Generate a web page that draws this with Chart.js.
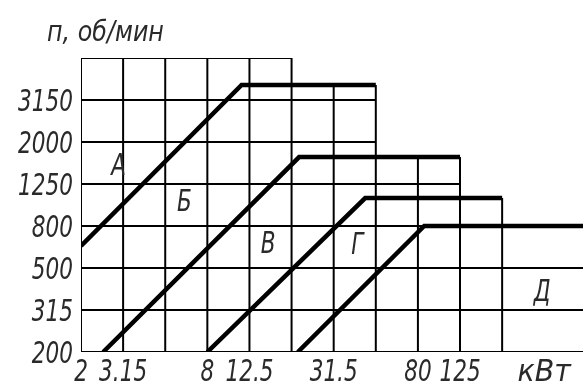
<!DOCTYPE html>
<html>
<head>
<meta charset="utf-8">
<script src="https://cdn.jsdelivr.net/npm/chart.js@4.4.1/dist/chart.umd.min.js"></script>
<style>
  html, body { margin: 0; padding: 0; background: #fff; }
</style>
</head>
<body>
<canvas id="chart" width="583" height="383"></canvas>
<script>
// grid steps of both axes (kW and rev/min), drawn at equal spacing
const powerSteps = [2, 3.15, 5, 8, 12.5, 20, 31.5, 50, 80, 125, 200];
const speedSteps = [200, 315, 500, 800, 1250, 2000, 3150, 5000];
const powerLabels = ['2', '3.15', '', '8', '12.5', '', '31.5', '', '80', '125', '', 'кВт'];
const speedLabels = ['200', '315', '500', '800', '1250', '2000', '3150', ''];
const yTitle = 'п, об/мин';

// range boundaries, [kW, rpm]
const lineA = [[2, 640], [11.5, 3715], [50, 3715]];
const lineB = [[2.54, 200], [21.7, 1690], [125, 1690]];
const lineV = [[8, 200], [44.5, 1077], [200, 1077]];
const lineG = [[21.4, 200], [85.5, 800], [500, 800]];

// stepped grid: top of each vertical line (rpm), right end of each horizontal line (kW)
const gridTops = [5000, 5000, 5000, 5000, 5000, 5000, 3715, 3715, 1690, 1690, 1077];
const gridEnds = [500, 500, 500, 500, 125, 50, 50, 20];

// zone letters, [kW, rpm]
const zoneNames = ['А', 'Б', 'В', 'Г', 'Д'];
const zoneAt = [[3.0, 1564], [6.2, 1055], [15.4, 670], [40.8, 661], [313, 392]];

const font = 'italic 200 30px "DejaVu Sans", sans-serif';
const titleFont = 'italic 200 28px "DejaVu Sans", sans-serif';
const ink = '#2a2a2a';

// position of a value between the grid steps (log interpolation)
function stepIndex(v, steps) {
  let i = 0;
  while (i < steps.length - 2 && v > steps[i + 1]) i++;
  return i + Math.log(v / steps[i]) / Math.log(steps[i + 1] / steps[i]);
}
const pt = ([p, n]) => ({ x: stepIndex(p, powerSteps), y: stepIndex(n, speedSteps) });

const datasets = [];
powerSteps.forEach((p, i) => {
  datasets.push({
    data: [pt([p, speedSteps[0]]), pt([p, gridTops[i]])],
    borderColor: '#000', borderWidth: 2
  });
});
speedSteps.forEach((n, j) => {
  datasets.push({
    data: [pt([powerSteps[0], n]), pt([gridEnds[j], n])],
    borderColor: '#000', borderWidth: 2
  });
});
[lineA, lineB, lineV, lineG].forEach(l => {
  datasets.push({
    data: l.map(pt),
    borderColor: '#000', borderWidth: 4.5
  });
});

// narrow drafting-style text: squeeze the glyphs horizontally
function drawText(ctx, text, x, y, sx, align) {
  ctx.save();
  ctx.translate(x, y);
  ctx.scale(sx, 1);
  ctx.textAlign = align;
  ctx.fillText(text, 0, 0);
  ctx.restore();
}

const textPlugin = {
  id: 'drawingText',
  afterDraw(chart) {
    const { ctx, scales: { x, y } } = chart;
    ctx.save();
    ctx.fillStyle = ink;
    ctx.textBaseline = 'alphabetic';
    ctx.font = font;
    speedLabels.forEach((t, i) => {
      if (t) drawText(ctx, t, x.left - 8, y.getPixelForValue(i) + 11, 0.72, 'right');
    });
    powerLabels.forEach((t, i) => {
      if (t) drawText(ctx, t, x.getPixelForValue(i), 381, /\d/.test(t) ? 0.72 : 0.95, 'center');
    });
    zoneNames.forEach((t, i) => {
      const p = pt(zoneAt[i]);
      drawText(ctx, t, x.getPixelForValue(p.x), y.getPixelForValue(p.y) + 11, 0.72, 'center');
    });
    ctx.font = titleFont;
    drawText(ctx, yTitle, 47, 41, 0.85, 'left');
    ctx.restore();
  }
};

new Chart(document.getElementById('chart'), {
  type: 'line',
  data: { datasets },
  plugins: [textPlugin],
  options: {
    responsive: false,
    animation: false,
    devicePixelRatio: 1,
    parsing: false,
    layout: { padding: { top: 58, left: 0, right: 0, bottom: 0 } },
    elements: { point: { radius: 0 }, line: { tension: 0, fill: false } },
    plugins: { legend: { display: false }, tooltip: { enabled: false }, title: { display: false } },
    scales: {
      x: {
        type: 'linear', min: 0, max: 11.92,
        grid: { display: false }, border: { display: false },
        ticks: { display: false },
        afterFit: s => { s.height = 31; }
      },
      y: {
        type: 'linear', min: 0, max: 7,
        grid: { display: false }, border: { display: false },
        ticks: { display: false },
        afterFit: s => { s.width = 81; }
      }
    }
  }
});
</script>
</body>
</html>
